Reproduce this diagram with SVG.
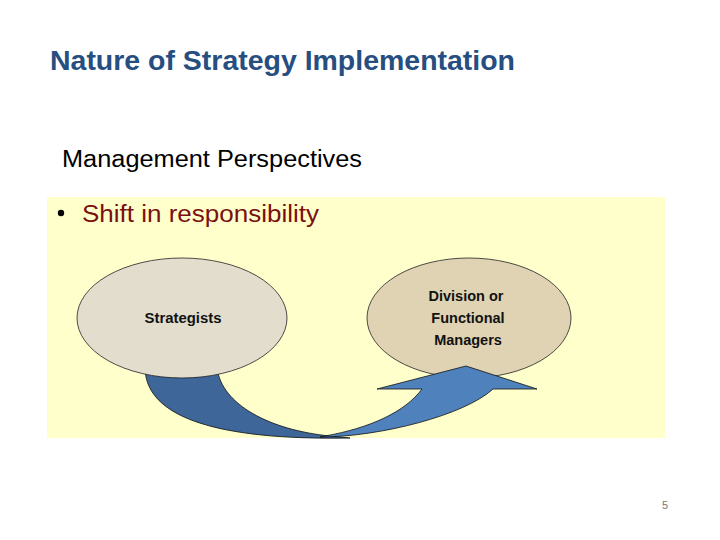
<svg xmlns="http://www.w3.org/2000/svg" width="720" height="540" viewBox="0 0 720 540">
<style>
.title{font-family:"Liberation Sans",Arial,sans-serif;font-weight:bold;font-size:28px;fill:#264e80}
.sub{font-family:"Liberation Sans",Arial,sans-serif;font-size:23px;fill:#000}
.bul{font-family:"Liberation Sans",Arial,sans-serif;font-size:23px;fill:#7a1010}
.lbl{font-family:"Liberation Sans",Arial,sans-serif;font-weight:bold;font-size:14.5px;fill:#111;text-anchor:middle}
.node{stroke:#222;stroke-width:0.8}
.arr{stroke:#111;stroke-width:0.8;stroke-linejoin:miter}
</style>
<rect width="720" height="540" fill="#ffffff"/>
<text class="title" x="50" y="70" textLength="465" lengthAdjust="spacingAndGlyphs">Nature of Strategy Implementation</text>
<text class="sub" x="62" y="167" textLength="300" lengthAdjust="spacingAndGlyphs">Management Perspectives</text>
<rect x="47" y="197" width="618" height="241" fill="#ffffcc"/>
<circle cx="61" cy="213" r="3.2" fill="#000"/>
<text class="bul" x="82" y="222" textLength="237" lengthAdjust="spacingAndGlyphs">Shift in responsibility</text>
<g id="connectors">
<path class="arr" fill="#3f6698" d="M145,368 C146,425 240,440 350,438 L330,436 C270,430 222,405 217,368 Z"/>
</g>
<g id="node-strategists">
<ellipse class="node" cx="182" cy="318" rx="105" ry="60" fill="#e2ddcd"/>
<text class="lbl" x="183" y="323" textLength="77" lengthAdjust="spacingAndGlyphs">Strategists</text>
</g>
<g id="node-managers">
<ellipse class="node" cx="469" cy="318" rx="102" ry="60" fill="#dfd3b3"/>
<text class="lbl" x="466" y="301">Division or</text>
<text class="lbl" x="468" y="323">Functional</text>
<text class="lbl" x="468" y="345">Managers</text>
</g>
<g id="connectors-head">
<path class="arr" fill="#4f81bd" d="M320,437 C380,437 465,415 493,389 L537,389 L466,366 L377,389 L422,389 C405,412 370,428 325,436 Z"/>
</g>
<text x="665" y="509" font-family="'Liberation Sans',Arial,sans-serif" font-size="11" fill="#777" text-anchor="middle">5</text>
</svg>
